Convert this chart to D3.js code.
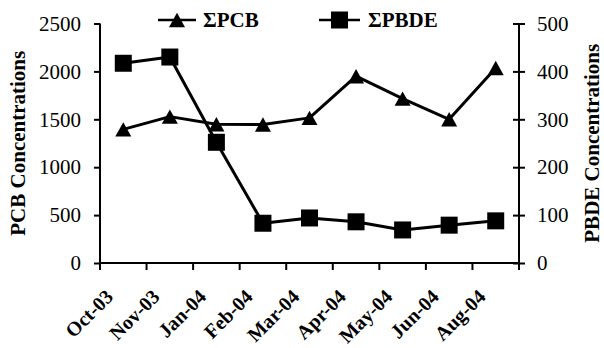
<!DOCTYPE html>
<html>
<head>
<meta charset="utf-8">
<script src="https://cdn.jsdelivr.net/npm/d3@7"></script>
<style>
  html, body { margin: 0; padding: 0; background: #fff; }
  svg { display: block; }
  svg text { font-family: "Liberation Serif", "Times New Roman", Times, "DejaVu Serif", serif !important; fill: #000; }
</style>
</head>
<body>
<svg id="chart" width="604" height="348"></svg>
<script>
const categories = ["Oct-03", "Nov-03", "Jan-04", "Feb-04", "Mar-04", "Apr-04", "May-04", "Jun-04", "Aug-04"];
const pcbValues  = [1395, 1528, 1448, 1445, 1515, 1950, 1716, 1500, 2035];
const pbdeValues = [417, 430, 252, 83, 94, 86, 69, 79, 88];
const leftTicks  = [0, 500, 1000, 1500, 2000, 2500];
const rightTicks = [0, 100, 200, 300, 400, 500];
const seriesNames = ["\u03A3PCB", "\u03A3PBDE"];
const leftTitle = "PCB Concentrations";
const rightTitle = "PBDE Concentrations";

const FONT = '"Liberation Serif", "Times New Roman", Times, "DejaVu Serif", serif';
const svg = d3.select("#chart");
const W = 604, H = 348;
const plot = { left: 100, right: 519, top: 23.5, bottom: 263 };

svg.append("rect").attr("width", W).attr("height", H).attr("fill", "#fff");

const x = d3.scaleBand().domain(categories).range([plot.left, plot.right]).padding(0);
const yL = d3.scaleLinear().domain([0, 2500]).range([plot.bottom, plot.top]);
const yR = d3.scaleLinear().domain([0, 500]).range([plot.bottom, plot.top]);
const cx = d => x(d) + x.bandwidth() / 2;

// Excel-like triangle: bounding box centered
const triType = {
  draw(ctx, size) {
    const w = Math.sqrt(size);
    const h = w * 0.9;
    ctx.moveTo(0, -h / 2);
    ctx.lineTo(w / 2, h / 2);
    ctx.lineTo(-w / 2, h / 2);
    ctx.closePath();
  }
};
const triPath = d3.symbol().type(triType).size(16 * 16)();
const sqPath = d3.symbol().type(d3.symbolSquare).size(17 * 17)();

// Axes
const fontSize = 21;
const gL = svg.append("g").attr("transform", `translate(${plot.left},0)`)
  .call(d3.axisLeft(yL).tickValues(leftTicks).tickSize(6).tickPadding(13).tickFormat(d3.format("d")));
const gR = svg.append("g").attr("transform", `translate(${plot.right},0)`)
  .call(d3.axisRight(yR).tickValues(rightTicks).tickSize(6).tickPadding(12).tickFormat(d3.format("d")));
gR.selectAll(".tick line").attr("x1", -6);
const gX = svg.append("g").attr("transform", `translate(0,${plot.bottom})`)
  .call(d3.axisBottom(x).tickSize(0).tickFormat(""));

const boundaries = categories.map(c => x(c)).concat([plot.right]);
svg.append("g").selectAll("line").data(boundaries).join("line")
  .attr("x1", d => d).attr("x2", d => d)
  .attr("y1", plot.bottom).attr("y2", plot.bottom + 7)
  .attr("stroke", "#000").attr("stroke-width", 2);

[gL, gR, gX].forEach(g => {
  g.attr("font-family", FONT);
  g.select(".domain").attr("stroke", "#000").attr("stroke-width", 2);
  g.selectAll(".tick line").attr("stroke", "#000").attr("stroke-width", 2);
  g.selectAll(".tick text").attr("font-family", FONT).attr("font-size", fontSize).attr("fill", "#000");
});
gL.select(".domain").attr("d", `M0,${plot.top}V${plot.bottom}`);
gR.select(".domain").attr("d", `M0,${plot.top}V${plot.bottom}`);
gX.select(".domain").attr("d", `M${plot.left},0H${plot.right}`);

// x labels rotated
svg.append("g").attr("font-family", FONT).selectAll("text").data(categories).join("text")
  .attr("transform", d => `translate(${cx(d) - 9},${plot.bottom + 35}) rotate(-45)`)
  .attr("text-anchor", "end")
  .attr("font-size", 20)
  .attr("font-weight", "bold")
  .text(d => d);

// Axis titles
svg.append("text")
  .attr("transform", `translate(25,${(plot.top + plot.bottom) / 2}) rotate(-90)`)
  .attr("text-anchor", "middle").attr("font-size", fontSize).attr("font-weight", "bold")
  .attr("font-family", FONT)
  .text(leftTitle);
svg.append("text")
  .attr("transform", `translate(599,${(plot.top + plot.bottom) / 2}) rotate(-90)`)
  .attr("text-anchor", "middle").attr("font-size", fontSize).attr("font-weight", "bold")
  .attr("font-family", FONT)
  .text(rightTitle);

// Lines
const pcbData = categories.map((c, i) => ({ c, v: pcbValues[i] }));
const pbdeData = categories.map((c, i) => ({ c, v: pbdeValues[i] }));

svg.append("path").datum(pbdeData)
  .attr("fill", "none").attr("stroke", "#000").attr("stroke-width", 3).attr("stroke-linejoin", "round")
  .attr("d", d3.line().x(d => cx(d.c)).y(d => yR(d.v)));
svg.append("path").datum(pcbData)
  .attr("fill", "none").attr("stroke", "#000").attr("stroke-width", 3).attr("stroke-linejoin", "round")
  .attr("d", d3.line().x(d => cx(d.c)).y(d => yL(d.v)));

svg.append("g").selectAll("path").data(pbdeData).join("path")
  .attr("transform", d => `translate(${cx(d.c)},${yR(d.v)})`)
  .attr("d", sqPath).attr("fill", "#000");
svg.append("g").selectAll("path").data(pcbData).join("path")
  .attr("transform", d => `translate(${cx(d.c)},${yL(d.v)})`)
  .attr("d", triPath).attr("fill", "#000");

// Legend
const legendY = 20;
const legend = [
  { name: seriesNames[0], x1: 158, x2: 196, mark: triPath, tx: 203 },
  { name: seriesNames[1], x1: 319, x2: 360, mark: sqPath, tx: 368 }
];
const lg = svg.append("g").selectAll("g").data(legend).join("g");
lg.append("line").attr("x1", d => d.x1).attr("x2", d => d.x2)
  .attr("y1", legendY).attr("y2", legendY).attr("stroke", "#000").attr("stroke-width", 2.5);
lg.append("path").attr("transform", d => `translate(${(d.x1 + d.x2) / 2},${legendY})`)
  .attr("d", d => d.mark).attr("fill", "#000");
lg.append("text").attr("x", d => d.tx).attr("y", legendY).attr("dy", "0.35em")
  .attr("font-family", FONT)
  .attr("font-size", fontSize).attr("font-weight", "bold").text(d => d.name);
</script>
</body>
</html>
